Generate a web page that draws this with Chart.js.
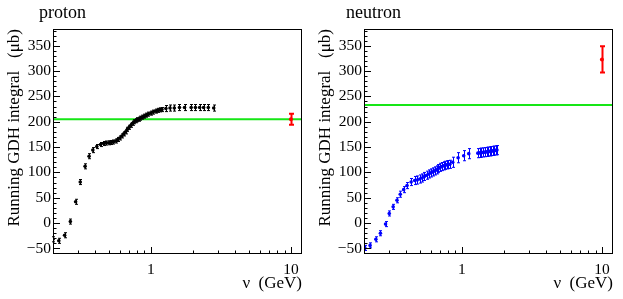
<!DOCTYPE html>
<html>
<head>
<meta charset="utf-8">
<script src="https://cdn.jsdelivr.net/npm/chart.js@4"></script>
<style>
  html, body { margin: 0; padding: 0; background: #fff; }
  #wrap { position: relative; width: 623px; height: 299px; }
  canvas { position: absolute; top: 0; }
</style>
</head>
<body>
<div id="wrap">
  <canvas id="protonChart" width="311" height="299" style="left:0"></canvas>
  <canvas id="neutronChart" width="311" height="299" style="left:311px"></canvas>
</div>
<script>
// photon energy (GeV) and running GDH integral (ub)
const protonNu = [0.200, 0.220, 0.242, 0.266, 0.290, 0.313, 0.339, 0.362, 0.385, 0.411, 0.437,
  0.46, 0.48, 0.50, 0.52, 0.54, 0.56, 0.58, 0.60, 0.62, 0.64, 0.66, 0.68, 0.70, 0.72, 0.74,
  0.76, 0.78, 0.80, 0.82, 0.84, 0.87, 0.90, 0.93, 0.96, 1.00, 1.04, 1.08, 1.12, 1.16, 1.20,
  1.28, 1.37, 1.47, 1.60, 1.74, 1.94, 2.08, 2.23, 2.38, 2.57, 2.81];
const protonGdh = [-32, -35, -24, 3, 42, 81, 112, 132, 144, 151, 155,
  157, 158, 158.5, 159, 160, 162, 165, 168, 172, 176, 180, 185, 189, 193, 197,
  200, 202, 204, 205, 207, 209, 211, 213, 215, 217, 219, 221, 222.5, 223.5, 224,
  226, 227, 227, 228, 228, 228, 228, 228, 228, 228, 227];
const protonErr = [5, 5, 5, 5, 5, 5, 5, 5, 5, 4, 4,
  4, 4, 4, 4, 4, 4, 4, 4, 4, 4, 4, 4, 4, 4, 4,
  4, 4, 4, 4, 4, 4, 4, 4, 4, 4, 4, 4, 4, 4, 4,
  6, 6, 6, 6, 6, 6, 6, 6, 6, 6, 6];

const neutronNu = [0.203, 0.221, 0.243, 0.262, 0.285, 0.303, 0.323, 0.344, 0.363, 0.384, 0.406, 0.434,
  0.46, 0.48, 0.50, 0.52, 0.54, 0.56, 0.58, 0.60, 0.62, 0.64, 0.66, 0.68, 0.70, 0.72, 0.74,
  0.76, 0.78, 0.80, 0.82,
  0.86, 0.94, 1.03, 1.12,
  1.30, 1.34, 1.38, 1.42, 1.46, 1.50, 1.54, 1.58, 1.62, 1.66, 1.70, 1.74, 1.78];
const neutronGdh = [-49, -44, -32, -20, -2, 19, 32, 45, 57, 66, 74, 81,
  84, 85, 87, 89, 92, 94.5, 97, 99, 101, 103, 105, 107.5, 110, 111.5, 113,
  114, 115, 115.5, 116,
  120, 129, 133, 137,
  138, 138.5, 139, 139.5, 140, 140.5, 141, 141.5, 142, 142.5, 143, 143.5, 144];
const neutronErr = [5, 5, 5, 5, 5, 5, 5, 5, 6, 6, 6, 7,
  8, 8, 8, 8, 8, 8, 8, 8, 8, 8, 8, 8, 8, 8, 8,
  8, 8, 8, 8,
  10, 10, 10, 10,
  9, 9, 9, 9, 9, 9, 9, 9, 9, 9, 9, 9, 9];

// sum-rule values (green line) and the high-energy point (red)
const protonSumRule = 205;
const neutronSumRule = 233;
const protonHigh = { nu: 10, gdh: 205, err: 11 };
const neutronHigh = { nu: 10, gdh: 323, err: 26 };

const xMin = 0.2, xMax = 12;
const yMin = -61, yMax = 383;
const yLabels = [-50, 0, 50, 100, 150, 200, 250, 300, 350];
const xLabels = [1, 10];

const FONT = '"Liberation Serif", "DejaVu Serif", serif';

const rootAxes = {
  id: "rootAxes",
  afterDatasetsDraw(chart, args, opts) {
    const { ctx, chartArea: a } = chart;
    const xs = chart.scales.x, ys = chart.scales.y;
    ctx.save();

    // error bars
    chart.data.datasets.forEach((ds) => {
      if (!ds.errors) return;
      ctx.strokeStyle = ds.backgroundColor;
      ctx.lineWidth = ds.errWidth || 1;
      const cap = ds.capSize || 1.5;
      ds.data.forEach((p, i) => {
        const x = Math.round(xs.getPixelForValue(p.x)) + 0.5;
        const y1 = ys.getPixelForValue(p.y - ds.errors[i]);
        const y2 = ys.getPixelForValue(p.y + ds.errors[i]);
        ctx.beginPath();
        ctx.moveTo(x, y1); ctx.lineTo(x, y2);
        ctx.moveTo(x - cap, y1); ctx.lineTo(x + cap, y1);
        ctx.moveTo(x - cap, y2); ctx.lineTo(x + cap, y2);
        ctx.stroke();
      });
    });

    // frame
    ctx.strokeStyle = "#000";
    ctx.lineWidth = 1;
    ctx.strokeRect(a.left + 0.5, a.top + 0.5, a.right - a.left - 1, a.bottom - a.top - 1);

    // y ticks, inside
    ctx.beginPath();
    for (let v = -60; v <= 380; v += 10) {
      const y = Math.round(ys.getPixelForValue(v)) + 0.5;
      const len = v % 50 === 0 ? 7 : 3.5;
      ctx.moveTo(a.left, y); ctx.lineTo(a.left + len, y);
    }
    // x ticks, log
    for (const dec of [0.1, 1, 10]) {
      for (let k = 1; k <= 9; k++) {
        const v = k * dec;
        if (v < xMin || v > xMax) continue;
        const x = Math.round(xs.getPixelForValue(v)) + 0.5;
        const len = k === 1 ? 7 : 3.5;
        ctx.moveTo(x, a.bottom); ctx.lineTo(x, a.bottom - len);
      }
    }
    ctx.stroke();

    ctx.fillStyle = "#000";
    ctx.font = "15.5px " + FONT;
    ctx.textAlign = "right";
    ctx.textBaseline = "middle";
    yLabels.forEach((v) => {
      const t = v < 0 ? "\u2212" + Math.abs(v) : String(v);
      ctx.fillText(t, a.left - 2, ys.getPixelForValue(v));
    });
    ctx.textAlign = "center";
    xLabels.forEach((v) => ctx.fillText(String(v), xs.getPixelForValue(v), a.bottom + 16));

    ctx.font = "17px " + FONT;
    ctx.textAlign = "right";
    ctx.textBaseline = "alphabetic";
    ctx.fillText("\u03bd  (GeV)", a.right, a.bottom + 34);

    ctx.save();
    ctx.translate(19, a.top);
    ctx.rotate(-Math.PI / 2);
    ctx.textAlign = "right";
    ctx.fillText("Running GDH integral   (\u03bcb)", 0, 0);
    ctx.restore();

    ctx.font = "18px " + FONT;
    ctx.textAlign = "left";
    ctx.fillText(opts.title, opts.titleX, 17.5);
    ctx.restore();
  },
};

function makeChart(id, title, titleX, nu, gdh, err, color, sumRule, high) {
  return new Chart(document.getElementById(id), {
    type: "scatter",
    data: {
      datasets: [
        {
          type: "line",
          data: [{ x: xMin, y: sumRule }, { x: xMax, y: sumRule }],
          borderColor: "#16e616",
          borderWidth: 2,
          pointRadius: 0,
          order: 3,
        },
        {
          data: nu.map((x, i) => ({ x, y: gdh[i] })),
          errors: err,
          backgroundColor: color,
          borderColor: color,
          pointRadius: 1.8,
          borderWidth: 0,
          order: 1,
        },
        {
          data: [{ x: high.nu, y: high.gdh }],
          errors: [high.err],
          backgroundColor: "#ff0000",
          borderColor: "#ff0000",
          pointRadius: 2,
          borderWidth: 0,
          errWidth: 2,
          capSize: 2.5,
          order: 1,
        },
      ],
    },
    options: {
      responsive: false,
      animation: false,
      layout: { padding: { left: 53, right: 9, top: 29, bottom: 45 } },
      plugins: {
        legend: { display: false },
        tooltip: { enabled: false },
        rootAxes: { title, titleX },
      },
      scales: {
        x: { type: "logarithmic", min: xMin, max: xMax, display: false },
        y: { type: "linear", min: yMin, max: yMax, display: false },
      },
    },
    plugins: [rootAxes],
  });
}

makeChart("protonChart", "proton", 39, protonNu, protonGdh, protonErr, "#000000", protonSumRule, protonHigh);
makeChart("neutronChart", "neutron", 35, neutronNu, neutronGdh, neutronErr, "#0000ff", neutronSumRule, neutronHigh);
</script>
</body>
</html>
